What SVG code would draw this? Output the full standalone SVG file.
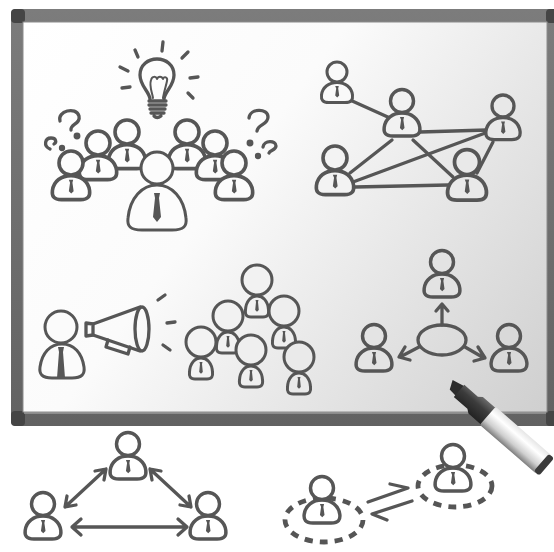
<svg xmlns="http://www.w3.org/2000/svg" width="554" height="552" viewBox="0 0 554 552">
<defs>
<style>
.s{fill:none;stroke:#565656;stroke-width:3.3;stroke-linecap:round;stroke-linejoin:round}
.o{stroke:#565656;stroke-width:3;stroke-linejoin:round}
.tie{fill:#565656}
.dash{fill:none;stroke:#555;stroke-width:4.8;stroke-dasharray:8 7}
</style>
<linearGradient id="board" gradientUnits="userSpaceOnUse" x1="23" y1="22" x2="547" y2="412">
<stop offset="0" stop-color="#ffffff"/><stop offset="0.4" stop-color="#fbfbfb"/><stop offset="1" stop-color="#cfcfcf"/>
</linearGradient>
<linearGradient id="fr" x1="0" y1="0" x2="0" y2="1">
<stop offset="0" stop-color="#7c7c7c"/><stop offset="1" stop-color="#626262"/>
</linearGradient>
<linearGradient id="mbar" x1="0" y1="0" x2="0" y2="1">
<stop offset="0" stop-color="#e6e6e6"/><stop offset="0.3" stop-color="#ffffff"/><stop offset="0.7" stop-color="#cfcfcf"/><stop offset="1" stop-color="#7d7d7d"/>
</linearGradient>
<linearGradient id="mcap" x1="0" y1="0" x2="0" y2="1">
<stop offset="0" stop-color="#6a6a6a"/><stop offset="0.4" stop-color="#3c3c3c"/><stop offset="1" stop-color="#222"/>
</linearGradient>
<!-- standard person: head r=10 at origin, bell body below, tie -->
<g id="p">
<path class="o" d="M-8 30.5C-14.5 30.5-16 27.5-15.5 23C-14.5 15-8 10.5 0 10.5C8 10.5 14.5 15 15.5 23C16 27.5 14.5 30.5 8 30.5Z"/>
<circle class="o" r="10"/>
<path class="tie" d="M-1.8 14h3.6l-.6 2.5 1 7-2 2-2-2 1-7z"/>
</g>
<!-- crowd person: large head, small body -->
<g id="q">
<path class="o" d="M-6 37C-11 37-12 34-11.5 30C-11 21-6 16 0 16C6 16 11 21 11.5 30C12 34 11 37 6 37Z"/>
<circle class="o" r="15"/>
<path class="tie" d="M-1.5 20h3l-.5 2 .8 8-1.8 1.8-1.8-1.8 .8-8z"/>
</g>
</defs>

<!-- whiteboard frame and surface -->
<g id="board-frame">
<rect x="11" y="9" width="560" height="417" rx="5" fill="url(#fr)"/>
<rect x="11" y="9" width="14" height="14" rx="4" fill="#454545"/>
<rect x="11" y="411" width="14" height="15" rx="4" fill="#454545"/>
<rect x="546" y="9" width="14" height="14" rx="4" fill="#454545"/>
<rect x="546" y="411" width="14" height="15" rx="4" fill="#454545"/>
<rect x="23" y="22" width="524" height="390" fill="url(#board)" stroke="#8c8c8c" stroke-width="1"/>
<line x1="24" y1="413" x2="546" y2="413" stroke="#9a9a9a" stroke-width="1.5"/>
</g>

<!-- connectors -->
<g id="connectors" class="s">
<!-- network links -->
<path d="M350 100L390 118M420 132L487 130M392 140L350 173M413 140L453 177M353 182L488 132M355 187L448 185M493 142L477 173"/>
<!-- hub arrows -->
<path d="M442 325V305M436 311L442 304L448 311"/>
<path d="M419 347L400 357M405 347L399 357L410 360"/>
<path d="M465 347L484 358M478 347L485 358L474 361"/>
<!-- triangle of double arrows -->
<path d="M106 469L65 507M95 471L106 469L104 480M76 505L65 507L67 496"/>
<path d="M150 469L191 507M161 471L150 469L152 480M180 505L191 507L189 496"/>
<path d="M72 527H187M81 519L72 527L81 535M178 519L187 527L178 535"/>
<!-- exchange half-arrows -->
<path d="M368 502L408 488L390 484"/>
<path d="M412 501L372 514L387 520"/>
</g>

<!-- lightbulb -->
<g id="lightbulb" class="s">
<path d="M150 99C149 91 140 86 140 75C140 65 148 59 157 59C166 59 174 65 174 75C174 86 165 91 164 99"/>
<path d="M153 98C152 92 149 86 151 80C152 76 156 76 157 79C158 76 162 76 163 79C164 76 168 77 167 81C166 86 164 92 163 98" stroke-width="2"/>
<path d="M149 101H166M149 105H166M150 109H165M151 113H164M154 116Q157 119 161 116"/>
<path d="M135 50L138 57M163 42L162 51M188 52L182 58M120 67L128 71M190 78L198 77M122 88L130 87M188 93L193 98"/>
</g>

<!-- question marks -->
<g id="questions" class="s">
<path d="M60 121C57 111 76 106 79 116C81 124 70 124 71 130"/>
<circle cx="77" cy="136" r="1.8"/>
<path d="M50 149C43 146 45 138 51 138C56 138 57 142 54 144"/>
<circle cx="62" cy="148" r="1.5"/>
<path d="M249 118C250 108 268 108 268 117C268 125 258 124 257 131"/>
<circle cx="250" cy="143" r="1.8"/>
<path d="M263 147C264 140 276 140 276 146C276 150 270 150 269 153"/>
<circle cx="258" cy="156" r="1.5"/>
</g>

<!-- brainstorm group -->
<g id="team-3"><use href="#p" transform="translate(127 132) scale(1.2)" fill="#fdfdfd"/></g>
<g id="team-5"><use href="#p" transform="translate(187 132) scale(1.2)" fill="#fcfcfc"/></g>
<g id="team-2"><use href="#p" transform="translate(98 143) scale(1.2)" fill="#fdfdfd"/></g>
<g id="team-6"><use href="#p" transform="translate(215 143) scale(1.2)" fill="#fbfbfb"/></g>
<g id="team-1"><use href="#p" transform="translate(71 163) scale(1.2)" fill="#fdfdfd"/></g>
<g id="team-7"><use href="#p" transform="translate(234 163) scale(1.2)" fill="#fbfbfb"/></g>
<g id="team-lead">
<path class="o" fill="#fcfcfc" stroke-width="3.6" d="M142 230C130 230 127 226 128 218C130 198 142 185 157 185C172 185 184 198 186 218C187 226 184 230 172 230Z"/>
<circle class="o" fill="#fcfcfc" stroke-width="3.6" cx="157" cy="168" r="16"/>
<path class="tie" d="M154 193h6l-1 5 2 19-4 5-4-5 2-19z"/>
</g>

<!-- network -->
<g id="net-1"><use href="#p" transform="translate(337 72) scale(1)" fill="#f9f9f9"/></g>
<g id="net-2"><use href="#p" transform="translate(402 101) scale(1.15)" fill="#f1f1f1"/></g>
<g id="net-3"><use href="#p" transform="translate(503 106) scale(1.1)" fill="#e8e8e8"/></g>
<g id="net-4"><use href="#p" transform="translate(335 158) scale(1.2)" fill="#f3f3f3"/></g>
<g id="net-5"><use href="#p" transform="translate(467 162) scale(1.25)" fill="#e9e9e9"/></g>

<!-- speaker with megaphone -->
<g id="speaker">
<path class="o" fill="#fbfbfb" stroke-width="3.4" d="M52 378C42 378 39 374 40 367C42 353 50 344 62 344C74 344 82 353 84 367C85 374 82 378 72 378Z"/>
<circle class="o" fill="#fbfbfb" stroke-width="3.4" cx="61" cy="327" r="16"/>
<path class="tie" d="M58 347h6l-1 5 2 26h-8l2-26z"/>
</g>
<g id="megaphone" class="s">
<path d="M86 323L93 324L93 335L86 336Z"/>
<path d="M93 324L140 307M93 335L140 351"/>
<ellipse cx="142" cy="329" rx="7" ry="22"/>
<path d="M108 340L106 347L128 354L130 347"/>
<path d="M158 300L165 295M167 323L175 322M163 345L170 350"/>
</g>

<!-- audience -->
<g id="crowd-c"><use href="#q" transform="translate(257 280)" fill="#f2f2f2"/></g>
<g id="crowd-b"><use href="#q" transform="translate(228 316)" fill="#f2f2f2"/></g>
<g id="crowd-d"><use href="#q" transform="translate(284 311)" fill="#eeeeee"/></g>
<g id="crowd-a"><use href="#q" transform="translate(201 342)" fill="#f3f3f3"/></g>
<g id="crowd-e"><use href="#q" transform="translate(251 350)" fill="#efefef"/></g>
<g id="crowd-f"><use href="#q" transform="translate(299 357)" fill="#eaeaea"/></g>

<!-- hub distribution -->
<ellipse id="hub" class="s" cx="442" cy="340" rx="24" ry="15"/>
<g id="hub-top"><use href="#p" transform="translate(442 262) scale(1.15)" fill="#e3e3e3"/></g>
<g id="hub-left"><use href="#p" transform="translate(374 336) scale(1.15)" fill="#e4e4e4"/></g>
<g id="hub-right"><use href="#p" transform="translate(509 336) scale(1.15)" fill="#d9d9d9"/></g>

<!-- triangle below the board -->
<g id="tri-top"><use href="#p" transform="translate(128 444) scale(1.15)" fill="#fff"/></g>
<g id="tri-left"><use href="#p" transform="translate(43 504) scale(1.15)" fill="#fff"/></g>
<g id="tri-right"><use href="#p" transform="translate(208 504) scale(1.15)" fill="#fff"/></g>

<!-- pair in dashed circles -->
<g id="pair-left">
<ellipse class="dash" cx="324" cy="520" rx="39" ry="22"/>
<use href="#p" transform="translate(322 488) scale(1.15)" fill="#fff"/>
</g>
<g id="pair-right">
<ellipse class="dash" cx="455" cy="486" rx="37" ry="21"/>
<use href="#p" transform="translate(453 456) scale(1.15)" fill="#fff"/>
</g>

<!-- marker pen -->
<g id="marker" transform="translate(450 383) rotate(41)">
<path d="M0 -4L13 -7V6L4 5Z" fill="#2c2c2c"/>
<path d="M12 -8H30L34 -11H52V11H34L30 8H12Z" fill="url(#mcap)"/>
<rect x="50" y="-12" width="74" height="24" rx="2" fill="url(#mbar)"/>
<rect x="121" y="-11.5" width="7" height="23" rx="3" fill="#3a3a3a"/>
</g>
</svg>
